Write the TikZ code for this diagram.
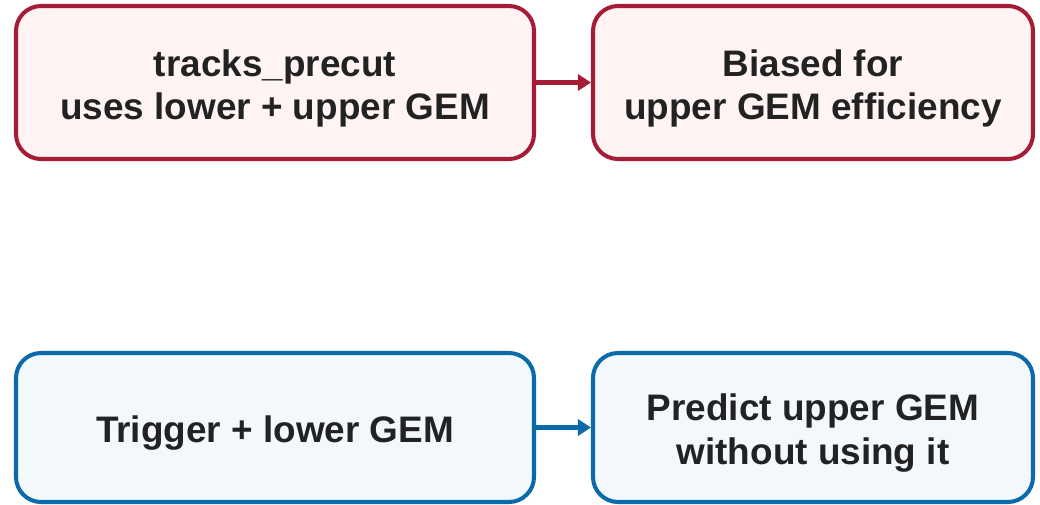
\documentclass[tikz,border=0pt]{standalone}
\usepackage{fontspec}
\setmainfont{Liberation Sans}
\usetikzlibrary{positioning, arrows.meta}
\definecolor{rosso}{HTML}{A51C36}
\definecolor{rossochiaro}{HTML}{FFF3F3}
\definecolor{blu}{HTML}{0A6AAA}
\definecolor{bluchiaro}{HTML}{F3F8FD}
\definecolor{testo}{HTML}{222222}
\tikzset{
    scatola/.style={draw, line width=2.3pt, rounded corners=0.5cm, align=center,
        text=testo, font=\fontsize{21}{25}\selectfont\bfseries, inner sep=0pt,
        execute at begin node={\rule{0pt}{#1}}},
    scatola/.default=22pt,
    freccia/.style={line width=2.3pt, -{Triangle[length=0.26cm,width=0.32cm]}}
}
\begin{document}
\begin{tikzpicture}
        \useasboundingbox (0,0) rectangle (20.8,-10.1);
        %riga superiore
        \node[scatola=47pt, draw=rosso, fill=rossochiaro, minimum width=10.36cm, minimum height=3.06cm] (precut) at (5.5,-1.65) {tracks\_precut\\uses lower + upper GEM};
        \node[scatola=47pt, draw=rosso, fill=rossochiaro, minimum width=8.8cm, minimum height=3.06cm] (biased) at (16.26,-1.65) {Biased for\\upper GEM efficiency};
        %riga inferiore
        \node[scatola, draw=blu, fill=bluchiaro, minimum width=10.36cm, minimum height=2.98cm] (trigger) at (5.5,-8.55) {Trigger + lower GEM};
        \node[scatola=47pt, draw=blu, fill=bluchiaro, minimum width=8.8cm, minimum height=2.98cm] (predict) at (16.26,-8.55) {Predict upper GEM\\without using it};
        %frecce
        \draw[freccia, rosso] (precut) -- (biased);
        \draw[freccia, blu] (trigger) -- (predict);
    \end{tikzpicture}
\end{document}
